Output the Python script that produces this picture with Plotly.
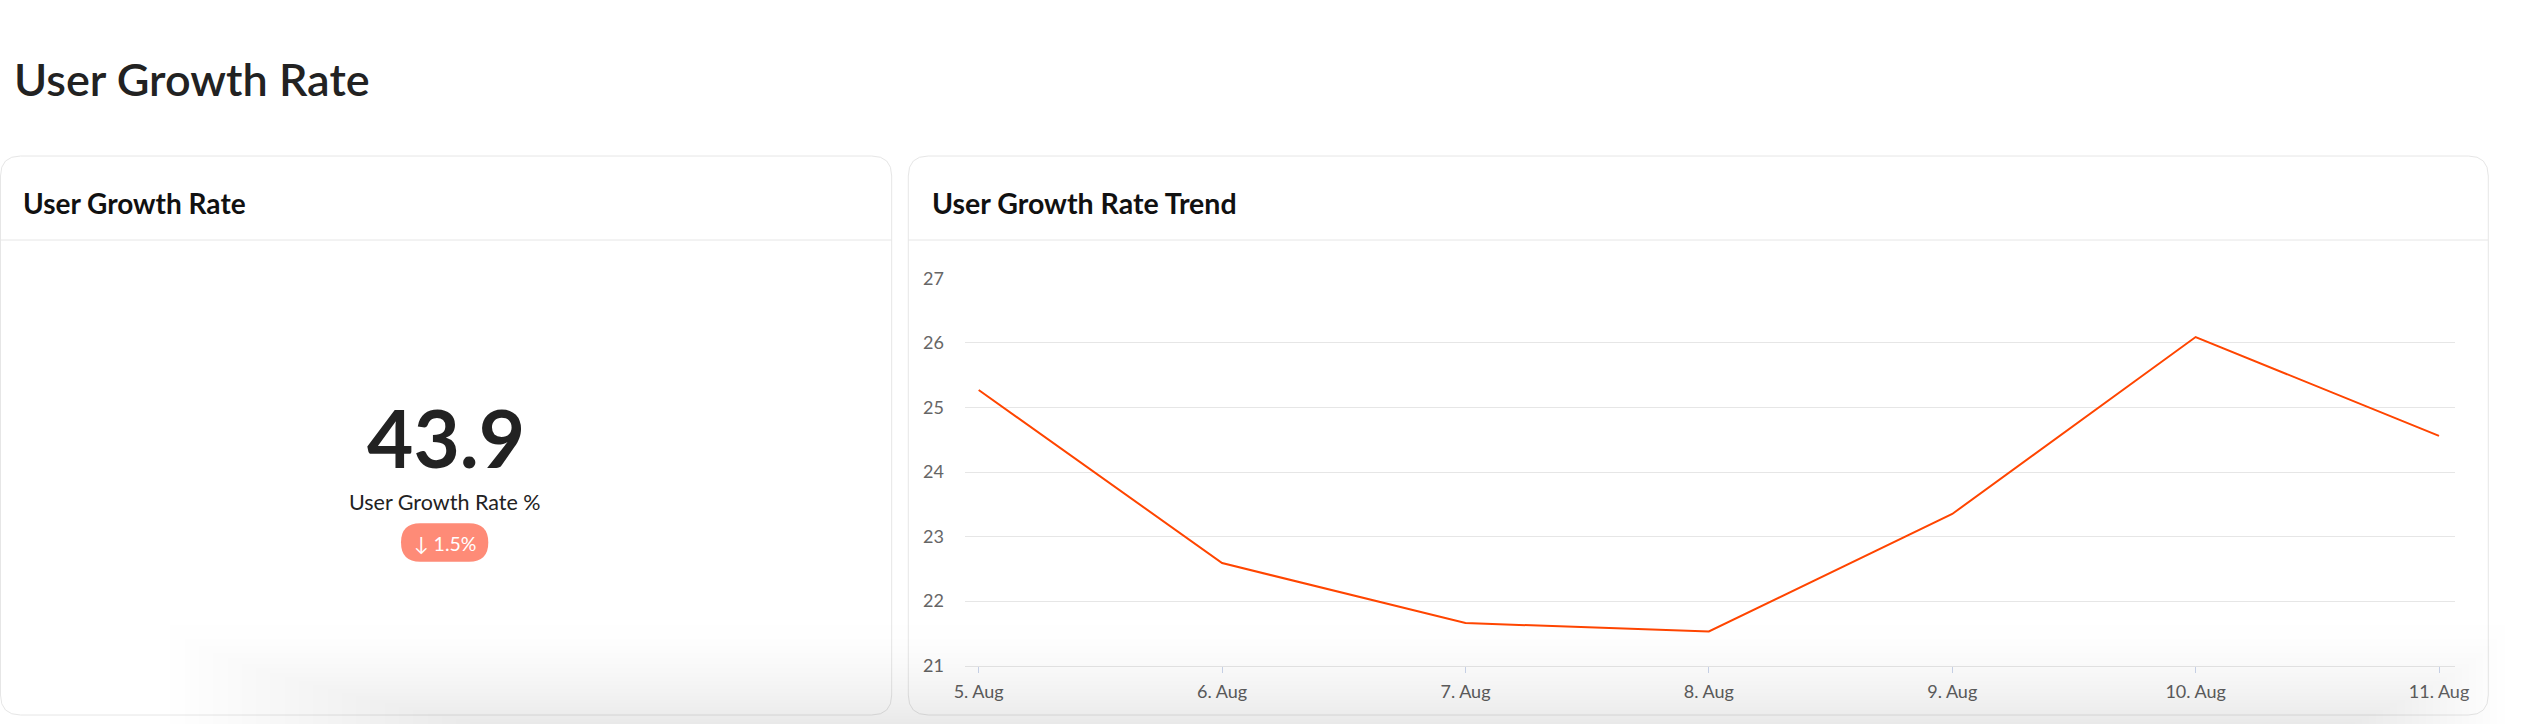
import plotly.graph_objects as go

W, H = 2522, 724

# ---------------- data ----------------
dates = ["5. Aug", "6. Aug", "7. Aug", "8. Aug", "9. Aug", "10. Aug", "11. Aug"]
growth_rate = [25.27, 22.59, 21.66, 21.53, 23.35, 26.09, 24.56]
y_ticks = [21, 22, 23, 24, 25, 26, 27]
y_tick_labels = ["21", "22", "23", "24", "25", "26", "27"]

page_title = "User Growth Rate"
kpi_card_title = "User Growth Rate"
trend_card_title = "User Growth Rate Trend"
kpi_value = "43.9"
kpi_label = "User Growth Rate %"
kpi_change = "↓ 1.5%"

FONT = "Lato"
DARK = "#222222"
BORDER = "#e6e6e6"


def px(x):
    return x / W


def py(y):
    return 1 - y / H


def rounded_rect_path(x0, y0, x1, y1, r):
    rx, ry = r / W, r / H
    X0, X1 = px(x0), px(x1)
    YT, YB = py(y0), py(y1)
    return (f"M{X0+rx},{YT} L{X1-rx},{YT} Q{X1},{YT} {X1},{YT-ry} "
            f"L{X1},{YB+ry} Q{X1},{YB} {X1-rx},{YB} L{X0+rx},{YB} "
            f"Q{X0},{YB} {X0},{YB+ry} L{X0},{YT-ry} Q{X0},{YT} {X0+rx},{YT} Z")


fig = go.Figure()

fig.add_trace(go.Scatter(
    x=dates, y=growth_rate, mode="lines",
    line=dict(color="#ff4500", width=2),
    hoverinfo="skip", showlegend=False,
))

shapes = []
cards = [(0.5, 156, 891.7, 715), (908.3, 156, 2488.3, 715)]
for (x0, y0, x1, y1) in cards:
    shapes.append(dict(type="path", xref="paper", yref="paper",
                       path=rounded_rect_path(x0, y0, x1, y1, 20),
                       fillcolor="white", line=dict(color=BORDER, width=1),
                       layer="below"))
    shapes.append(dict(type="line", xref="paper", yref="paper",
                       x0=px(x0), x1=px(x1), y0=py(240), y1=py(240),
                       line=dict(color=BORDER, width=1), layer="below"))

shapes.append(dict(type="path", xref="paper", yref="paper",
                   path=rounded_rect_path(401, 523.3, 488.3, 561.7, 19.2),
                   fillcolor="#fe8b77", line=dict(width=0), layer="below"))

# soft bottom shadow (stack of faint rectangles)
N = 22
for k in range(N):
    s = k / (N - 1)
    top = 625 + 97 * s ** 0.65
    left = 170 + 300 * s
    right = 2505 - 150 * s
    shapes.append(dict(type="rect", xref="paper", yref="paper",
                       x0=px(left), x1=px(right), y0=py(top), y1=0,
                       fillcolor="rgba(0,0,0,0.0043)", line=dict(width=0),
                       layer="above"))

annotations = [
    dict(text=page_title, x=px(12), y=py(79), xanchor="left", yanchor="middle",
         font=dict(family=FONT, size=45, color=DARK, weight=600)),
    dict(text=kpi_card_title, x=px(21), y=py(203), xanchor="left", yanchor="middle",
         font=dict(family=FONT, size=28, color="#111111", weight=700)),
    dict(text=trend_card_title, x=px(930), y=py(203), xanchor="left", yanchor="middle",
         font=dict(family=FONT, size=28.5, color="#111111", weight=700)),
    dict(text=kpi_value, x=px(446), y=py(437), xanchor="center", yanchor="middle",
         font=dict(family=FONT, size=80, color=DARK, weight=700)),
    dict(text=kpi_label, x=px(444), y=py(502), xanchor="center", yanchor="middle",
         font=dict(family=FONT, size=21.5, color=DARK)),
    dict(text=kpi_change, x=px(444.7), y=py(543), xanchor="center", yanchor="middle",
         font=dict(family=FONT, size=19.5, color="white")),
]
for a in annotations:
    a.update(xref="paper", yref="paper", showarrow=False)

fig.update_layout(
    width=W, height=H, autosize=False,
    margin=dict(l=0, r=0, t=0, b=0, pad=0, autoexpand=False),
    paper_bgcolor="white", plot_bgcolor="rgba(0,0,0,0)",
    shapes=shapes, annotations=annotations,
    xaxis=dict(domain=[px(965), px(2455)], type="category",
               range=[-0.0563, 6.0657], showgrid=False, zeroline=False,
               ticks="outside", ticklen=6, tickcolor="#ccd6eb", tickwidth=1,
               showline=True, linecolor=BORDER, linewidth=1,
               tickfont=dict(family=FONT, size=18, color="#666666"),
               ticklabelstandoff=4, fixedrange=True, automargin=False),
    yaxis=dict(domain=[py(665.7), py(278.3)], range=[21, 27],
               tickvals=y_ticks, ticktext=y_tick_labels,
               showgrid=True, gridcolor=BORDER, gridwidth=1, zeroline=False,
               ticks="", showline=False,
               tickfont=dict(family=FONT, size=18, color="#666666"),
               ticklabelstandoff=20, fixedrange=True, automargin=False),
)

fig.write_html("out.html", config={"displayModeBar": False},
               post_script="document.body.style.margin='0px';")
